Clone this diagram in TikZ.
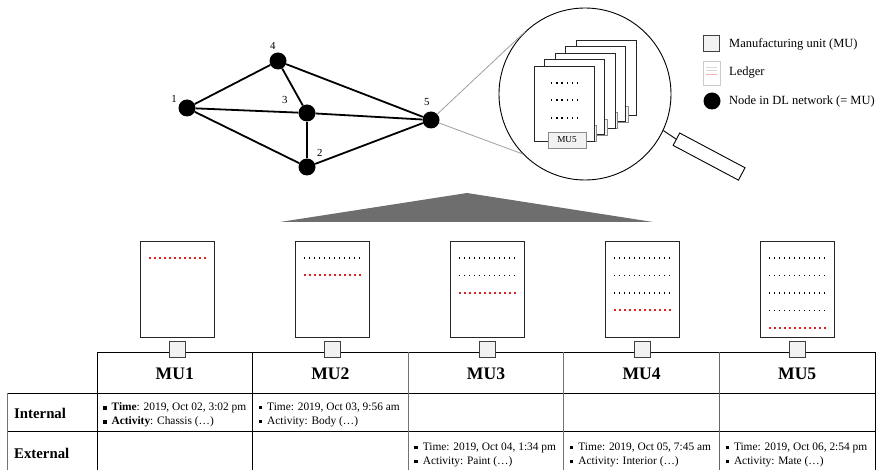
\documentclass[tikz,border=0pt]{standalone}
\usepackage{fontspec}
\setmainfont{Liberation Serif}
\usetikzlibrary{calc}

\definecolor{tabgray}{HTML}{F2F2F2}
\definecolor{conegray}{HTML}{6E6E6E}
\definecolor{newentry}{HTML}{E0201C}

% small square bullet for the table entries
\newcommand{\sqbul}{\rule[0.22ex]{3.4pt}{3.4pt}\hspace{5pt}}

\begin{document}
\begin{tikzpicture}[
  x=1pt, y=-1pt,
  every node/.style={font=\fontsize{11.4}{14}\selectfont},
  dot/.style = {fill,circle,inner sep=0pt,minimum size=17pt},
  link/.style = {line width=1.8pt},
  num/.style = {font=\fontsize{10.8}{12}\selectfont,inner sep=0.5pt},
  mubox/.style = {draw=black!75,fill=tabgray,inner sep=0pt,minimum size=16pt},
  sheet/.style = {draw=black!85,fill=white,line width=0.9pt},
  tab/.style = {draw=black!45,fill=tabgray,line width=0.6pt},
  oldrow/.style = {black,line width=1.1pt,dash pattern=on 1pt off 4pt},
  newrow/.style = {newentry,line width=2pt,dash pattern=on 2pt off 3pt},
  legend/.style = {anchor=west,inner sep=0pt,font=\fontsize{12.5}{15}\selectfont},
  head/.style = {font=\bfseries\fontsize{17.6}{20}\selectfont},
  rowhead/.style = {anchor=west,inner sep=0pt,font=\bfseries\fontsize{14.8}{17}\selectfont},
  entry/.style = {anchor=west,align=left,inner sep=0pt},
  tabline/.style = {line width=0.9pt},
  grayline/.style = {line width=1pt,draw=black!55}
  ]
  \useasboundingbox (0,0) rectangle (876,470);

  % DL network
  \node[dot,label={[num,label distance=2pt]152:1}] (n1) at (187,108) {};
  \node[dot,label={[num,label distance=2pt]100:4}] (n4) at (278,61) {};
  \node[dot,label={[num,label distance=12pt]155:3}] (n3) at (307,113) {};
  \node[dot,label={[num,label distance=5pt]47:2}] (n2) at (307,167) {};
  \node[dot,label={[num,label distance=5pt]93:5}] (n5) at (431,120) {};

  \foreach \a/\b in {n1/n4, n1/n3, n1/n2, n4/n3, n4/n5, n3/n5, n3/n2, n2/n5}
    \draw[link] (\a) -- (\b);

  % magnifier on node 5
  \node[circle,draw,line width=0.9pt,minimum size=172pt,inner sep=0pt] (mag) at (585,94) {};
  \draw[gray!75,line width=0.8pt] (n5) -- (mag.134);
  \draw[gray!75,line width=0.8pt] (n5) -- (mag.224);
  \node[draw,line width=0.9pt,rotate=-28,anchor=west,minimum width=74pt,minimum height=14pt,inner sep=0pt] (handle) at (676,139) {};
  \draw[line width=0.9pt] (mag.-25) -- (handle.west);

  % stack of ledgers
  \foreach \k in {4,3,2,1}{
    \pgfmathsetmacro{\lx}{534+10.5*\k}
    \pgfmathsetmacro{\ly}{66-6.5*\k}
    \draw[sheet] (\lx,\ly) rectangle ++(60,75);
    \draw[tab] (\lx+14,\ly+66) rectangle ++(38,16);
  }
  \draw[sheet] (534,66) rectangle ++(60,75);
  \foreach \r in {83,100,118}
    \draw[oldrow,line width=1.3pt,dash pattern=on 1.3pt off 3.9pt] (551,\r) -- ++(27,0);
  \node[tab,minimum width=38pt,minimum height=16pt,inner sep=0pt,font=\fontsize{9.2}{10}\selectfont] (mu5) at (567,140) {MU5};

  % legend
  \node[mubox] (lgmu) at (711,43) {};
  \node[legend] (lgmutext) at (729,44) {Manufacturing unit (MU)};
  \draw[black!20,fill=white,line width=0.8pt] (703,61) rectangle (720,85);
  \draw[black!15,line width=0.6pt] (706,67) -- (717,67) (706,70.5) -- (717,70.5);
  \draw[newentry!35,line width=0.6pt] (706,74) -- (717,74);
  \node[legend] (lgledger) at (729,73) {Ledger};
  \node[dot] (lgdot) at (712,101) {};
  \node[legend] (lgdottext) at (729,101) {Node in DL network (= MU)};

  % zoom cone
  \fill[conegray] (467,193) -- (653,222) -- (280,222) -- cycle;

  % table
  \draw[tabline] (97,352) -- (875,352);
  \draw[tabline] (7,393) -- (875,393);
  \draw[tabline] (7,431) -- (875,431);
  \draw[grayline] (7,393) -- (7,471);
  \foreach \c/\col in {0/black,1/black,2/black!55,3/black!55,4/black!60,5/black}
    \draw[tabline,draw=\col] (97+155.6*\c,352) -- (97+155.6*\c,471);

  \node[rowhead] (internal) at (14,413) {Internal};
  \node[rowhead] (external) at (14,453) {External};

  % ledgers of the units
  \foreach \k in {1,...,5}{
    \pgfmathsetmacro{\px}{140+155*(\k-1)}
    \pgfmathsetmacro{\cx}{97+155.6*\k-77.8}
    \node[head] (h\k) at (\cx,374) {MU\k};
    \draw[sheet] (\px,241) rectangle ++(74,96);
    \foreach \j in {1,...,\k}{
      \ifnum\j=\k\relax \def\rowst{newrow}\else \def\rowst{oldrow}\fi
      \draw[\rowst] (\px+9,240.5+17.5*\j) -- ++(57,0);
    }
    \node[mubox] (u\k) at (\px+37,349) {};
  }

  \node[entry] (e1) at (103,415) {\sqbul\textbf{Time}: 2019, Oct 02, 3:02 pm\\\sqbul\textbf{Activity}: Chassis (…)};
  \node[entry] (e2) at (258.6,415) {\sqbul Time: 2019, Oct 03, 9:56 am\\\sqbul Activity: Body (…)};
  \node[entry] (e3) at (414.2,455) {\sqbul Time: 2019, Oct 04, 1:34 pm\\\sqbul Activity: Paint (…)};
  \node[entry] (e4) at (569.8,455) {\sqbul Time: 2019, Oct 05, 7:45 am\\\sqbul Activity: Interior (…)};
  \node[entry] (e5) at (725.4,455) {\sqbul Time: 2019, Oct 06, 2:54 pm\\\sqbul Activity: Mate (…)};

\end{tikzpicture}
\end{document}
